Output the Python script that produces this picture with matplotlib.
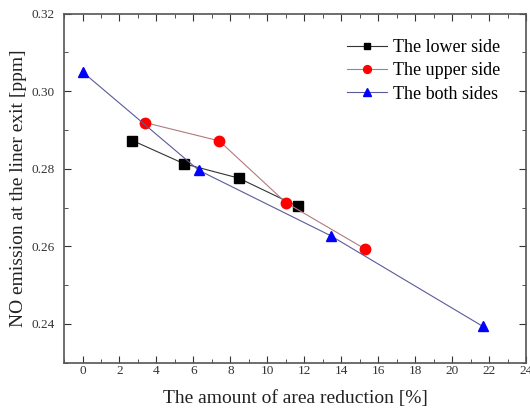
import matplotlib.pyplot as plt
from matplotlib.ticker import MultipleLocator

# data
lower_x = [2.7, 5.5, 8.45, 11.65]
lower_y = [0.2873, 0.2813, 0.2776, 0.2703]
upper_x = [3.4, 7.4, 11.0, 15.3]
upper_y = [0.2919, 0.2872, 0.2713, 0.2593]
both_x = [0.0, 6.3, 13.45, 21.65]
both_y = [0.3050, 0.2796, 0.2627, 0.2394]

plt.rcParams['font.family'] = ['Liberation Serif', 'DejaVu Serif']

fig = plt.figure(figsize=(5.3, 4.09), dpi=100)
ax = fig.add_axes([0.1208, 0.1132, 0.8717, 0.8533])

ax.plot(lower_x, lower_y, '-', color='#333333', lw=0.8, marker='s', ms=6.5,
        mfc='black', mec='black', label='The lower side')
ax.plot(upper_x, upper_y, '-', color='#b07a80', lw=0.8, marker='o', ms=7.5,
        mfc='red', mec='red', label='The upper side')
ax.plot(both_x, both_y, '-', color='#5a5a9a', lw=0.8, marker='^', ms=7.5,
        mfc='blue', mec='blue', label='The both sides')

ax.set_xlim(-1, 24)
ax.set_ylim(0.23, 0.32)
ax.xaxis.set_major_locator(MultipleLocator(2))
ax.xaxis.set_minor_locator(MultipleLocator(1))
ax.yaxis.set_major_locator(MultipleLocator(0.02))
ax.yaxis.set_minor_locator(MultipleLocator(0.01))
ax.yaxis.set_major_formatter(plt.FuncFormatter(lambda v, p: f'{v:.2f}'))

ax.tick_params(which='both', direction='in', top=True, right=True,
               labelsize=9.5, labelcolor='#333333', color='#333333')
ax.tick_params(which='major', length=5)
ax.tick_params(which='minor', length=3)
ax.tick_params(axis='x', pad=2)
ax.tick_params(axis='y', pad=7)
for s in ax.spines.values():
    s.set_color('#555555')
    s.set_linewidth(1.2)

ax.set_xlabel('The amount of area reduction [%]', fontsize=14, color='#222222', labelpad=9)
ax.set_ylabel('NO emission at the liner exit [ppm]', fontsize=14, color='#222222', labelpad=3)

ax.legend(loc='upper right', frameon=False, fontsize=13, handlelength=2.2,
          handletextpad=0.35, labelspacing=0.35, borderaxespad=1.0,
          markerscale=0.75)

fig.savefig('out.png', dpi=100)
